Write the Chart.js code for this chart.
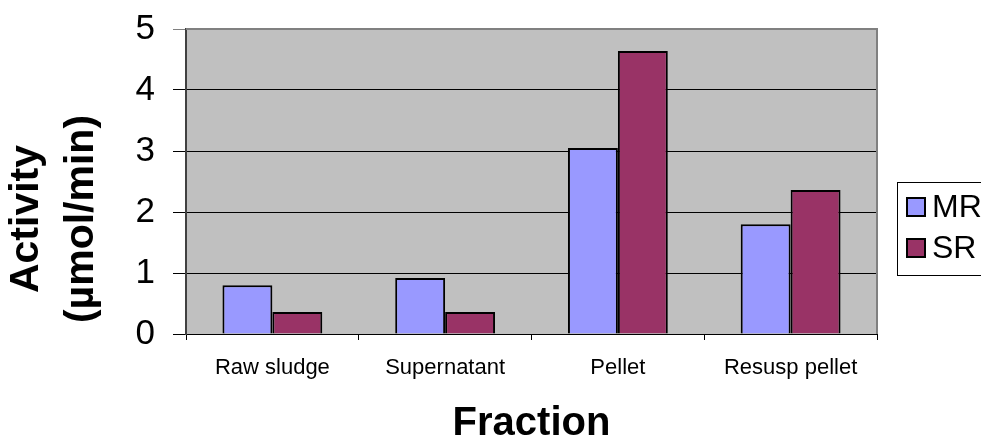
<!DOCTYPE html>
<html>
<head>
<meta charset="utf-8">
<script src="https://cdn.jsdelivr.net/npm/chart.js@4/dist/chart.umd.min.js"></script>
<style>
  html, body { margin:0; padding:0; background:#fff; }
  #wrap { width:981px; height:436px; }
</style>
</head>
<body>
<div id="wrap"><canvas id="chart"></canvas></div>
<script>
/* ===== DATA ===== */
const fractions = ["Raw sludge", "Supernatant", "Pellet", "Resusp pellet"];
const mrValues = [0.80, 0.92, 3.05, 1.80];
const srValues = [0.36, 0.36, 4.64, 2.36];
const yTicks = [0, 1, 2, 3, 4, 5];
const yTitle = ["Activity", "(\u00b5mol/min)"];
const xTitle = "Fraction";

const FONT = "'Liberation Sans', Arial, sans-serif";

/* ===== PLUGINS ===== */
// gray plot area + border
const plotArea = {
  id: "plotArea",
  beforeDraw(chart) {
    const {ctx, chartArea: a} = chart;
    ctx.save();
    ctx.fillStyle = "#c0c0c0";
    ctx.fillRect(a.left, a.top, a.right - a.left, a.bottom - a.top);
    ctx.restore();
  },
  beforeDatasetsDraw(chart) {
    const {ctx, chartArea: a} = chart;
    ctx.save();
    ctx.strokeStyle = "#808080";
    ctx.lineWidth = 2;
    ctx.beginPath();
    ctx.moveTo(a.left, a.top);
    ctx.lineTo(a.right, a.top);
    ctx.lineTo(a.right, a.bottom);
    ctx.stroke();
    ctx.restore();
  }
};

// two-line y title, centred on the page height like the original
const yTitlePlugin = {
  id: "yTitlePlugin",
  afterDraw(chart) {
    const {ctx} = chart;
    ctx.save();
    ctx.font = "bold 41px " + FONT;
    ctx.fillStyle = "#000";
    ctx.textAlign = "center";
    ctx.textBaseline = "middle";
    const xs = [27, 82];
    yTitle.forEach((t, i) => {
      ctx.save();
      ctx.translate(xs[i], 219);
      ctx.rotate(-Math.PI / 2);
      ctx.fillText(t, 0, 0);
      ctx.restore();
    });
    ctx.restore();
  }
};

// boxed legend to the right of the plot (clipped by the canvas edge)
const boxLegend = {
  id: "boxLegend",
  afterDraw(chart) {
    const {ctx, chartArea: a} = chart;
    const left = a.right + 20, top = 182, bottom = 275;
    ctx.save();
    ctx.fillStyle = "#fff";
    ctx.fillRect(left, top, 200, bottom - top);
    ctx.strokeStyle = "#000";
    ctx.lineWidth = 1;
    ctx.strokeRect(left + 0.5, top + 0.5, 200, bottom - top);
    ctx.font = "32px " + FONT;
    ctx.textBaseline = "middle";
    chart.data.datasets.forEach((ds, i) => {
      const cy = 207 + i * 41;
      ctx.fillStyle = ds.backgroundColor;
      ctx.fillRect(left + 10, cy - 9, 18, 18);
      ctx.lineWidth = 2;
      ctx.strokeStyle = "#000";
      ctx.strokeRect(left + 10, cy - 9, 18, 18);
      ctx.fillStyle = "#000";
      ctx.fillText(ds.label, left + 35, cy + 1);
    });
    ctx.restore();
  }
};

/* ===== CHART ===== */
new Chart(document.getElementById("chart"), {
  type: "bar",
  data: {
    labels: fractions,
    datasets: [
      {label: "MR", data: mrValues, backgroundColor: "#9999ff", borderColor: "#000", borderWidth: 2},
      {label: "SR", data: srValues, backgroundColor: "#993366", borderColor: "#000", borderWidth: 2}
    ]
  },
  options: {
    responsive: true,
    maintainAspectRatio: false,
    animation: false,
    layout: {padding: {top: 29, right: 104, bottom: 0, left: 0}},
    datasets: {bar: {barPercentage: 1, categoryPercentage: 0.578}},
    plugins: {
      legend: {display: false},
      tooltip: {enabled: false}
    },
    scales: {
      x: {
        grid: {drawOnChartArea: false, tickLength: 6, color: "#000"},
        border: {color: "#000", width: 1},
        ticks: {color: "#000", font: {family: FONT, size: 22}, padding: 15, maxRotation: 0},
        title: {display: true, text: xTitle, color: "#000",
                font: {family: FONT, size: 40, weight: "bold", lineHeight: 0.6}, padding: 0},
        afterFit(scale) { scale.height = 102; }
      },
      y: {
        min: 0, max: 5,
        afterBuildTicks(scale) { scale.ticks = yTicks.map(v => ({value: v})); },
        grid: {
          color: c => c.tick && c.tick.value === 5 ? "#808080" : "#000",
          tickLength: 13, lineWidth: 1
        },
        border: {color: "#404040", width: 2},
        ticks: {color: "#000", font: {family: FONT, size: 35, lineHeight: 0.5}, padding: 18},
        afterFit(scale) { scale.width = 186; }
      }
    }
  },
  plugins: [plotArea, yTitlePlugin, boxLegend]
});
</script>
</body>
</html>
